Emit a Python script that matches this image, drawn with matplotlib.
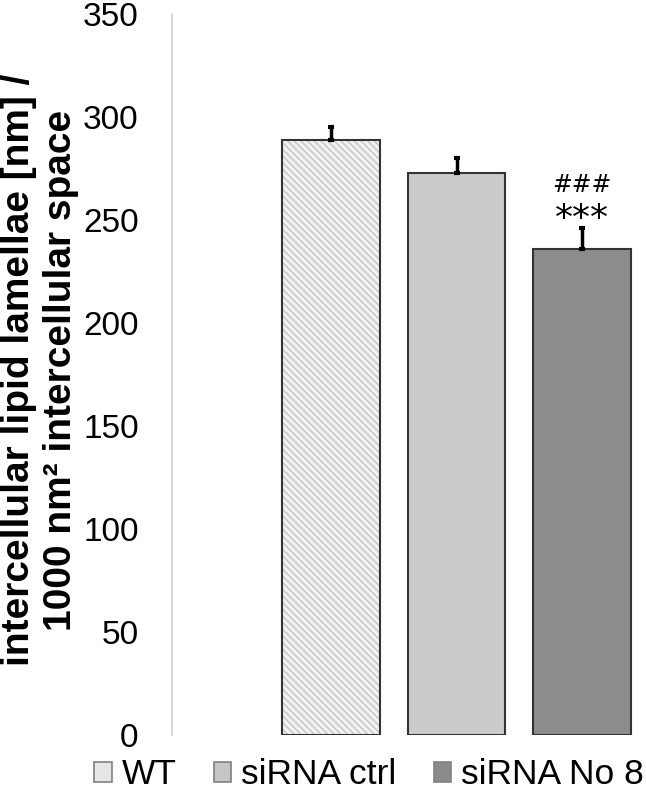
import matplotlib
matplotlib.use("Agg")
import matplotlib.pyplot as plt
from matplotlib.patches import Patch
import numpy as np

plt.rcParams['font.family'] = ['Liberation Sans', 'DejaVu Sans']
plt.rcParams['hatch.linewidth'] = 1.0

groups = ['WT', 'siRNA ctrl', 'siRNA No 8']
means = [289, 273, 236]
errors = [6, 7, 10]
colors = ['#f2f2f2', '#cbcbcb', '#8c8c8c']
legend_colors = ['#e6e6e6', '#c6c6c6', '#8a8a8a']
hatches = ['\\\\\\\\\\', '', '']
stars = ['', '', '***']
hashes = ['', '', '###']

fig = plt.figure(figsize=(6.46, 7.93), dpi=100)
ax = fig.add_axes([172 / 646, 58 / 793, 468 / 646, 721 / 793])

x = np.arange(len(groups))
for i in range(len(groups)):
    b = ax.bar(x[i], means[i], width=0.78, color=colors[i], edgecolor='#333333',
               linewidth=1.5, hatch=hatches[i], zorder=2)
    for p in b:
        p._hatch_color = matplotlib.colors.to_rgba('#c4c4c4')
    ax.errorbar(x[i], means[i], yerr=[[0], [errors[i]]], fmt='none', ecolor='black',
                elinewidth=2.5, capsize=2.5, capthick=3, zorder=3)
    top = means[i] + errors[i]
    if stars[i]:
        ax.text(x[i], top - 0.5, stars[i], ha='center', va='baseline',
                fontsize=26, family='DejaVu Sans')
    if hashes[i]:
        ax.text(x[i], top + 17.5, hashes[i], ha='center', va='baseline',
                fontsize=17, family='DejaVu Sans')

ax.set_xlim(-1.267, 2.462)
ax.set_ylim(0, 350)
ax.set_yticks(np.arange(0, 351, 50))
ax.set_xticks([])
ax.tick_params(axis='y', length=0, labelsize=24, pad=24)
for side in ['top', 'right', 'bottom']:
    ax.spines[side].set_visible(False)
ax.spines['left'].set_color('#d0d0d0')
ax.spines['left'].set_linewidth(1.2)

fig.text(40 / 646, 1 - 370 / 793,
         'intercellular lipid lamellae [nm] /\n1000 nm² intercellular space',
         rotation=90, ha='center', va='center', fontsize=28, fontweight='bold',
         linespacing=1.2)

handles = [Patch(facecolor=c, edgecolor='#808080', linewidth=1.2) for c in legend_colors]
fig.legend(handles=handles, labels=groups, loc='center',
           bbox_to_anchor=(369 / 646, 18 / 793), ncol=3, frameon=False,
           fontsize=25.5, handlelength=0.5, handleheight=0.5, handletextpad=0.28,
           columnspacing=1.05, borderaxespad=0, borderpad=0)

fig.savefig('out.png', dpi=100)
